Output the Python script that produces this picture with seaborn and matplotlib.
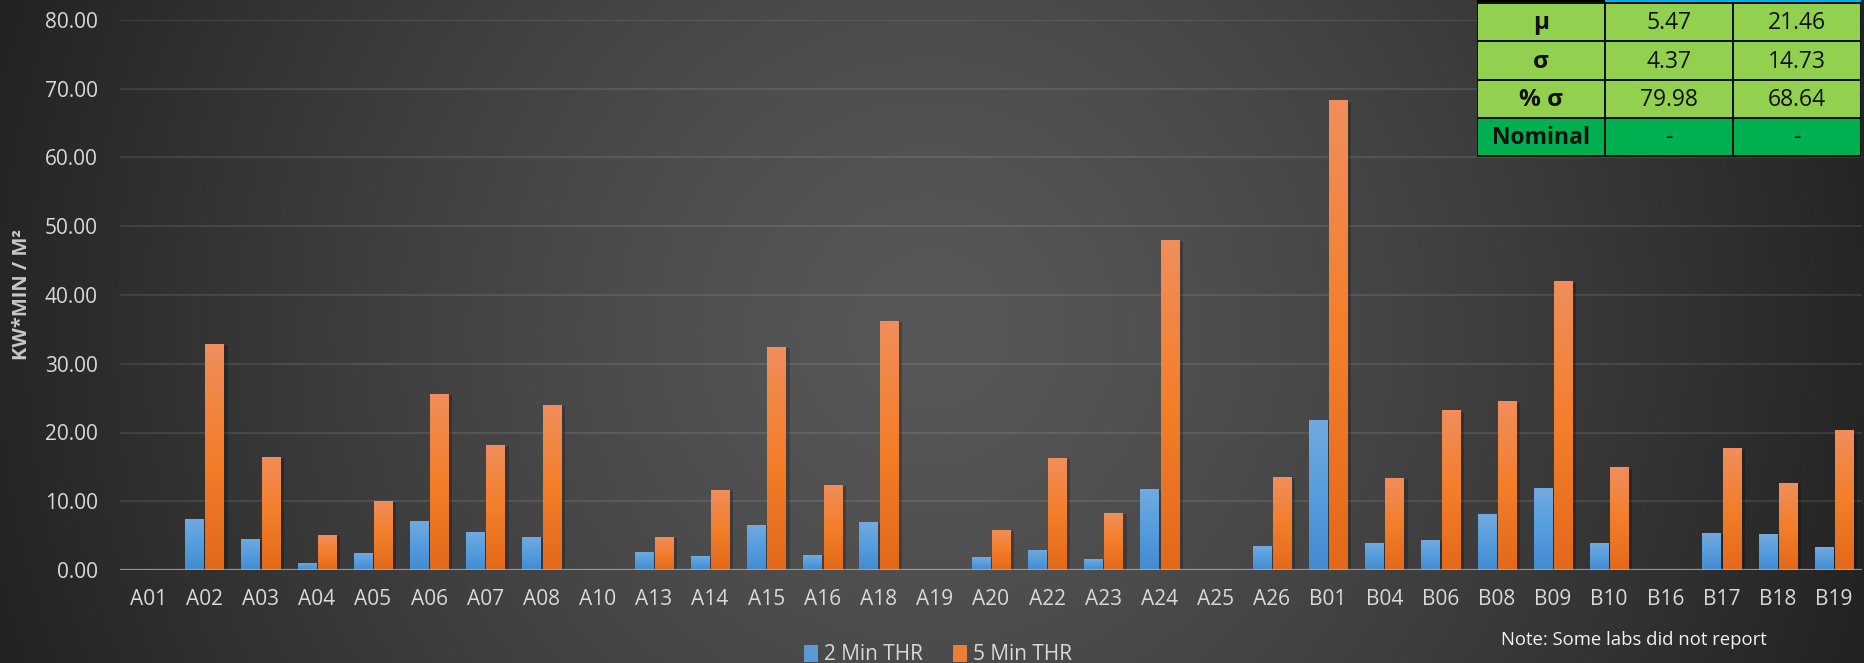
import numpy as np
import pandas as pd
import matplotlib
matplotlib.use("Agg")
import matplotlib.pyplot as plt
import matplotlib.patheffects as pe
from matplotlib.colors import LinearSegmentedColormap
from matplotlib.patches import Rectangle
import seaborn as sns

# ---- data -------------------------------------------------------------
labs = ["A01", "A02", "A03", "A04", "A05", "A06", "A07", "A08", "A10", "A13",
        "A14", "A15", "A16", "A18", "A19", "A20", "A22", "A23", "A24", "A25",
        "A26", "B01", "B04", "B06", "B08", "B09", "B10", "B16", "B17", "B18", "B19"]
nan = np.nan
thr_2min = [nan, 7.42, 4.51, 1.02, 2.47, 7.13, 5.53, 4.80, nan, 2.62,
            2.04, 6.55, 2.18, 6.98, nan, 1.89, 2.91, 1.60, 11.78, nan,
            3.49, 21.82, 3.93, 4.36, 8.14, 11.91, 3.92, nan, 5.38, 5.23, 3.34]
thr_5min = [nan, 32.90, 16.44, 5.09, 10.04, 25.60, 18.19, 24.00, nan, 4.80,
            11.64, 32.44, 12.37, 36.23, nan, 5.82, 16.29, 8.29, 48.00, nan,
            13.53, 68.30, 13.39, 23.24, 24.55, 41.99, 14.96, nan, 17.72, 12.64, 20.34]
series_names = ["2 Min THR", "5 Min THR"]
y_ticks = [0, 10, 20, 30, 40, 50, 60, 70, 80]

stat_rows = ["μ", "σ", "% σ", "Nominal"]
stat_2min = ["5.47", "4.37", "79.98", "-"]
stat_5min = ["21.46", "14.73", "68.64", "-"]

# ---- figure ----------------------------------------------------------
W, H = 1865, 663
sns.set_theme(style="dark")
plt.rcParams["font.family"] = ["Open Sans", "DejaVu Sans"]

fig = plt.figure(figsize=(W / 100, H / 100), dpi=100)

# radial dark-grey background
yy, xx = np.mgrid[0:H, 0:W]
d = np.sqrt((xx - 930.0) ** 2 + (yy - 330.0) ** 2) / 930.0
lum = 88.0 - 50.0 * np.clip(d, 0, 1.15) ** 1.3
bg = np.dstack([lum, lum, lum]) / 255.0
fig.figimage(bg, xo=0, yo=0, origin="upper", zorder=-10)

ax = fig.add_axes([120 / W, (H - 570) / H, (1862 - 120) / W, 550 / H])
ax.set_facecolor("none")

df = pd.DataFrame({"lab": labs, series_names[0]: thr_2min, series_names[1]: thr_5min})
long = df.melt(id_vars="lab", var_name="series", value_name="value").dropna()

palette = {series_names[0]: "#5b9bd5", series_names[1]: "#ed7d31"}
sns.barplot(data=long, x="lab", y="value", hue="series", order=labs,
            hue_order=series_names, palette=palette, width=0.72, gap=0.11,
            errorbar=None, saturation=1, linewidth=0, edgecolor="none", ax=ax)

# vertical gradient fill for every bar, clipped to the bar shape
cmaps = [
    LinearSegmentedColormap.from_list("blue_grad", ["#438bd1", "#559ddd", "#72aae0"]),
    LinearSegmentedColormap.from_list("orange_grad", ["#e2691a", "#f47e2a", "#f08e5c"]),
]
grad = np.linspace(0, 1, 256).reshape(-1, 1)
shadow = [pe.SimplePatchShadow(offset=(3, -1), shadow_rgbFace="black", alpha=0.22), pe.Normal()]
for cont, cmap in zip(ax.containers, cmaps):
    for bar in cont:
        h = bar.get_height()
        if not np.isfinite(h) or h <= 0:
            continue
        x0 = bar.get_x()
        w = bar.get_width()
        bar.set_linewidth(0)
        bar.set_path_effects(shadow)
        im = ax.imshow(grad, extent=[x0, x0 + w, 0, h], origin="lower",
                       aspect="auto", cmap=cmap, zorder=bar.get_zorder() + 0.01)
        im.set_clip_path(bar)

ax.set_xlim(-0.5, len(labs) - 0.5)
ax.set_ylim(0, 80)
ax.set_yticks(y_ticks)
ax.set_yticklabels([f"{v:.2f}" for v in y_ticks])
ax.set_axisbelow(True)
ax.grid(axis="y", color="white", alpha=0.1, linewidth=1.3)
ax.grid(axis="x", visible=False)
ax.axhline(0, color="#b0b0b0", linewidth=1.6, alpha=0.75, zorder=5)
for s in ax.spines.values():
    s.set_visible(False)
ax.tick_params(axis="both", length=0, colors="#d9d9d9", labelsize=15)
ax.tick_params(axis="y", pad=16)
ax.tick_params(axis="x", pad=14)
ax.set_xlabel("")
ax.set_ylabel("")

fig.text(22 / W, (H - 295) / H, "KW*MIN / M²", rotation=90, ha="center", va="center",
         fontsize=14.5, fontweight="bold", color="#c8c8c8")

# legend at the bottom
handles, labels_ = ax.get_legend_handles_labels()
if ax.get_legend() is not None:
    ax.get_legend().remove()
fig.legend(handles, labels_, loc="center", bbox_to_anchor=(938 / W, 8 / H), ncol=2,
           frameon=False, fontsize=15, handlelength=0.7, handleheight=0.9,
           handletextpad=0.3, columnspacing=1.4, labelcolor="#d9d9d9")

fig.text(1501 / W, (H - 640) / H, "Note: Some labs did not report", ha="left", va="center",
         fontsize=13.3, color="#f2f2f2")

# statistics table in the upper right corner
tab = fig.add_axes([1477 / W, (H - 157) / H, 384 / W, 157 / H])
tab.set_xlim(0, 384)
tab.set_ylim(157, 0)
tab.axis("off")
col_edges = [0, 128, 256, 384]
row_edges = [3, 41, 80, 118, 156]
tab.add_patch(Rectangle((0, 0), 128, 3, facecolor="black", edgecolor="none"))
tab.add_patch(Rectangle((128, 0), 256, 3, facecolor="#00b0f0", edgecolor="none"))
cells = [stat_rows, stat_2min, stat_5min]
for r in range(len(stat_rows)):
    fill = "#00b050" if stat_rows[r] == "Nominal" else "#92d050"
    y0, y1 = row_edges[r], row_edges[r + 1]
    for c in range(3):
        x0, x1 = col_edges[c], col_edges[c + 1]
        tab.add_patch(Rectangle((x0, y0), x1 - x0, y1 - y0, facecolor=fill,
                                edgecolor="#101010", linewidth=1.4))
        size = 17.5 if (c == 0 and r < 3) else 16.5
        tab.text((x0 + x1) / 2, (y0 + y1) / 2 + 1, cells[c][r], ha="center", va="center",
                 fontsize=size, color="#111111",
                 fontweight="bold" if c == 0 else "normal")

fig.savefig("out.png", dpi=100)
